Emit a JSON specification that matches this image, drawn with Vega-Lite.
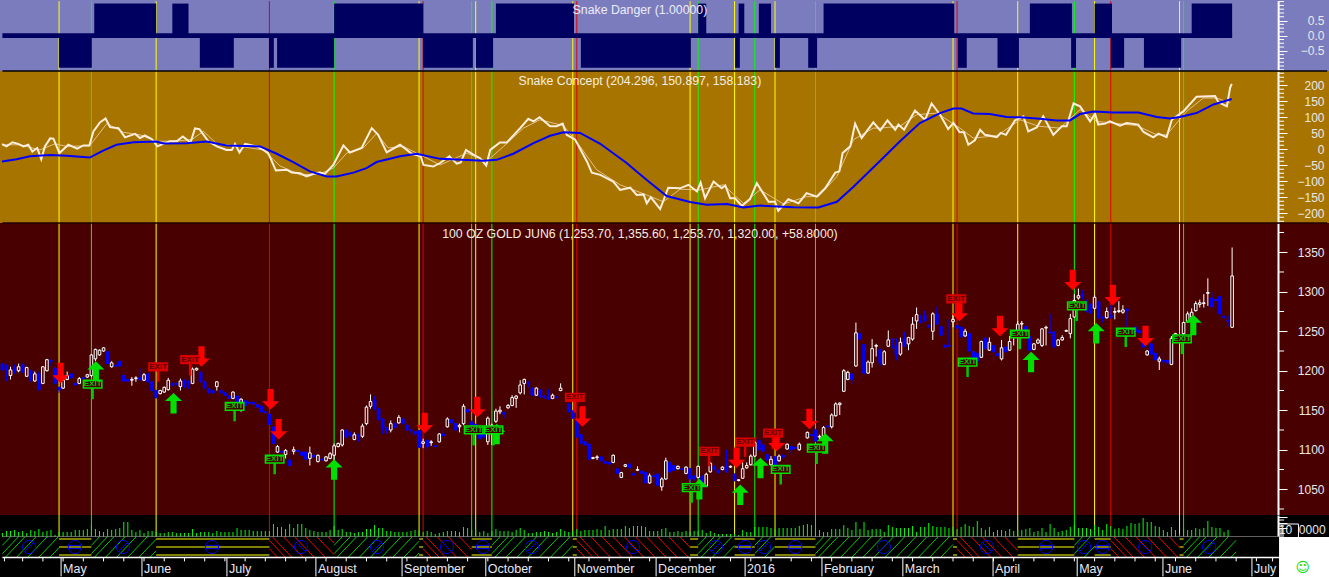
{"$schema":"https://vega.github.io/schema/vega-lite/v6.json","padding":{"left":-2,"top":0,"right":0,"bottom":0},"spacing":0,"bounds":"flush","background":"#000000","config":{"view":{"stroke":null},"axis":{"labelFont":"Liberation Sans","labelFontSize":12,"labelColor":"#E8E8E8","domainColor":"#FFFFFF","domainWidth":2,"tickColor":"#FFFFFF","tickSize":9,"grid":false,"title":null,"labelBound":false,"labelFlush":false},"axisY":{"orient":"right","offset":-51,"labelAlign":"right","labelPadding":37},"text":{"font":"Liberation Sans"}},
"datasets":{
"signals":[{"n":15,"k":"y"},{"n":23,"k":"g"},{"n":39,"k":"y"},{"n":67,"k":"r"},{"n":83,"k":"g"},{"n":104,"k":"y"},{"n":105,"k":"r"},{"n":117,"k":"g"},{"n":118,"k":"y"},{"n":122,"k":"g"},{"n":142,"k":"y"},{"n":143,"k":"r"},{"n":171,"k":"y"},{"n":173,"k":"g"},{"n":182,"k":"y"},{"n":187,"k":"g"},{"n":192,"k":"y"},{"n":202,"k":"g"},{"n":236,"k":"y"},{"n":237,"k":"r"},{"n":252,"k":"y"},{"n":266,"k":"g"},{"n":271,"k":"y"},{"n":275,"k":"r"},{"n":292,"k":"y"},{"n":293,"k":"g"}],
"danger":[{"n":23.7,"n2":39,"v":1.06},{"n":43,"n2":47,"v":1.06},{"n":83,"n2":105,"v":1.06},{"n":123,"n2":142.3,"v":1.06},{"n":173,"n2":175,"v":1.06},{"n":183,"n2":184.4,"v":1.06},{"n":188,"n2":191,"v":1.06},{"n":204,"n2":236.3,"v":1.06},{"n":255,"n2":265.4,"v":1.06},{"n":271,"n2":275.3,"v":1.06},{"n":295,"n2":305,"v":1.06},{"n":15,"n2":23.1,"v":-1.06},{"n":49.8,"n2":58.2,"v":-1.06},{"n":66.9,"n2":68.1,"v":-1.06},{"n":68.9,"n2":83,"v":-1.06},{"n":105,"n2":117.3,"v":-1.06},{"n":118,"n2":122.3,"v":-1.06},{"n":144,"n2":171.2,"v":-1.06},{"n":182.1,"n2":183.3,"v":-1.06},{"n":192,"n2":193.2,"v":-1.06},{"n":200.2,"n2":202.4,"v":-1.06},{"n":237.2,"n2":239.4,"v":-1.06},{"n":247,"n2":252.3,"v":-1.06},{"n":265.2,"n2":266.4,"v":-1.06},{"n":275,"n2":278.3,"v":-1.06},{"n":283.2,"n2":292.4,"v":-1.06}],
"baseline":[{"n":1,"n2":305}],
"white":[{"n":0.9,"v":16},{"n":2,"v":9},{"n":3.5,"v":22},{"n":4.9,"v":17},{"n":6.2,"v":9},{"n":7.4,"v":14},{"n":8.4,"v":-7},{"n":9.6,"v":4},{"n":10.6,"v":-31},{"n":11.5,"v":9},{"n":12.8,"v":34},{"n":13.6,"v":33},{"n":15.1,"v":-12},{"n":17.3,"v":14},{"n":19.5,"v":2},{"n":21,"v":12},{"n":22.5,"v":12},{"n":23.5,"v":56},{"n":25.1,"v":84},{"n":26.5,"v":96},{"n":27.6,"v":69},{"n":29.7,"v":66},{"n":31.3,"v":37},{"n":33.8,"v":48},{"n":35,"v":35},{"n":36.2,"v":43},{"n":37.9,"v":32},{"n":39.3,"v":9},{"n":40.8,"v":17},{"n":42.4,"v":25},{"n":44.1,"v":25},{"n":45.6,"v":40},{"n":47.5,"v":21},{"n":48.6,"v":65},{"n":49.7,"v":63},{"n":51.9,"v":25},{"n":54,"v":9},{"n":56.4,"v":-2},{"n":57.7,"v":-2},{"n":58.5,"v":17},{"n":59.6,"v":-10},{"n":61,"v":17},{"n":63.9,"v":9},{"n":65.5,"v":-2},{"n":66.7,"v":-12},{"n":68.6,"v":-66},{"n":71.3,"v":-64},{"n":72.5,"v":-73},{"n":74.6,"v":-75},{"n":76.2,"v":-85},{"n":78.3,"v":-75},{"n":79.5,"v":-73},{"n":80.7,"v":-77},{"n":82.8,"v":-49},{"n":85.3,"v":12},{"n":86.9,"v":-10},{"n":89.8,"v":4},{"n":92.3,"v":66},{"n":93.9,"v":45},{"n":96,"v":-10},{"n":99.3,"v":14},{"n":102.2,"v":-14},{"n":104.4,"v":-22},{"n":105.1,"v":-49},{"n":107.5,"v":-54},{"n":109.2,"v":-43},{"n":111.5,"v":-22},{"n":113.3,"v":-45},{"n":114.3,"v":-41},{"n":115.6,"v":-2},{"n":117.4,"v":-17},{"n":119.1,"v":-28},{"n":120.6,"v":-51},{"n":121.6,"v":-2},{"n":124,"v":21},{"n":125.7,"v":21},{"n":129,"v":66},{"n":131,"v":95},{"n":132.3,"v":87},{"n":133.8,"v":100},{"n":136.4,"v":72},{"n":138,"v":72},{"n":139.5,"v":80},{"n":140.5,"v":45},{"n":142.6,"v":30},{"n":145.5,"v":-38},{"n":146.7,"v":-73},{"n":148.8,"v":-80},{"n":152,"v":-101},{"n":153.7,"v":-127},{"n":156.2,"v":-120},{"n":157.8,"v":-143},{"n":159.5,"v":-141},{"n":160.3,"v":-169},{"n":161.3,"v":-150},{"n":163.6,"v":-187},{"n":165.6,"v":-120},{"n":168.5,"v":-122},{"n":170.6,"v":-111},{"n":172.7,"v":-132},{"n":173.6,"v":-104},{"n":174.7,"v":-153},{"n":176.8,"v":-101},{"n":178.8,"v":-122},{"n":179.7,"v":-113},{"n":180.9,"v":-153},{"n":182.1,"v":-153},{"n":183.8,"v":-177},{"n":185.8,"v":-156},{"n":187.5,"v":-106},{"n":190.4,"v":-164},{"n":192,"v":-164},{"n":192.8,"v":-192},{"n":195.3,"v":-156},{"n":197.8,"v":-169},{"n":199.8,"v":-137},{"n":202.3,"v":-148},{"n":204.4,"v":-122},{"n":206.9,"v":-73},{"n":207.9,"v":-69},{"n":208.7,"v":-12},{"n":210.6,"v":9},{"n":211.8,"v":80},{"n":213.4,"v":35},{"n":216.3,"v":84},{"n":218,"v":59},{"n":219.8,"v":90},{"n":221.7,"v":61},{"n":222.5,"v":77},{"n":223.9,"v":61},{"n":226.6,"v":121},{"n":229.1,"v":92},{"n":230.7,"v":143},{"n":232.8,"v":108},{"n":234.8,"v":63},{"n":236.1,"v":82},{"n":237.6,"v":54},{"n":238.7,"v":53},{"n":239.8,"v":14},{"n":241.4,"v":28},{"n":242.7,"v":61},{"n":243.9,"v":45},{"n":246.8,"v":38},{"n":247.8,"v":51},{"n":249.1,"v":45},{"n":251.3,"v":90},{"n":253.4,"v":103},{"n":254.6,"v":56},{"n":256.7,"v":68},{"n":258.3,"v":103},{"n":260.8,"v":45},{"n":262.9,"v":72},{"n":264.1,"v":72},{"n":265.8,"v":143},{"n":267.4,"v":134},{"n":269.9,"v":87},{"n":271.1,"v":111},{"n":271.9,"v":77},{"n":273.6,"v":80},{"n":274.8,"v":87},{"n":277.3,"v":74},{"n":278.9,"v":82},{"n":281.8,"v":77},{"n":283.1,"v":54},{"n":285.5,"v":37},{"n":286.8,"v":49},{"n":288.8,"v":38},{"n":290.1,"v":92},{"n":293,"v":119},{"n":296.2,"v":164},{"n":300.8,"v":166},{"n":301.6,"v":147},{"n":303.7,"v":134},{"n":304.5,"v":192},{"n":304.9,"v":204}],
"thin":[{"n":0.9,"v":14},{"n":5.3,"v":14},{"n":10.3,"v":-2},{"n":14,"v":17},{"n":16.9,"v":9},{"n":22.6,"v":11},{"n":26.8,"v":80},{"n":30.9,"v":53},{"n":35,"v":45},{"n":39.1,"v":25},{"n":43.3,"v":25},{"n":47.8,"v":30},{"n":50.7,"v":56},{"n":54,"v":17},{"n":59.7,"v":9},{"n":65.5,"v":-2},{"n":69.6,"v":-52},{"n":74.6,"v":-80},{"n":79.5,"v":-77},{"n":82.8,"v":-59},{"n":86.1,"v":-12},{"n":90.2,"v":4},{"n":93.5,"v":49},{"n":96.4,"v":4},{"n":100.1,"v":9},{"n":104.2,"v":-17},{"n":109.2,"v":-49},{"n":115.8,"v":-12},{"n":120.7,"v":-38},{"n":124.9,"v":9},{"n":129.8,"v":66},{"n":133.9,"v":92},{"n":139.7,"v":74},{"n":143.8,"v":9},{"n":147.9,"v":-64},{"n":153.7,"v":-111},{"n":160.3,"v":-143},{"n":164.4,"v":-164},{"n":168.5,"v":-125},{"n":173.5,"v":-127},{"n":179.2,"v":-111},{"n":184.2,"v":-169},{"n":188.3,"v":-127},{"n":194.1,"v":-171},{"n":199.8,"v":-148},{"n":202.7,"v":-148},{"n":207.3,"v":-85},{"n":211.4,"v":30},{"n":216.3,"v":66},{"n":218,"v":66},{"n":222.9,"v":72},{"n":227,"v":108},{"n":232,"v":113},{"n":237.7,"v":66},{"n":241,"v":35},{"n":246.8,"v":42},{"n":252.6,"v":92},{"n":257.1,"v":72},{"n":262.4,"v":66},{"n":267.4,"v":124},{"n":271.5,"v":87},{"n":281.4,"v":74},{"n":286.4,"v":45},{"n":288.8,"v":45},{"n":293.8,"v":119},{"n":297.9,"v":160},{"n":301.2,"v":160},{"n":304.5,"v":145}],
"blue":[{"n":0.9,"v":-38},{"n":4.5,"v":-31},{"n":7.8,"v":-22},{"n":12.8,"v":-18},{"n":16.9,"v":-20},{"n":22.6,"v":-26},{"n":25.9,"v":-4},{"n":29.2,"v":14},{"n":33.4,"v":22},{"n":39.1,"v":24},{"n":40.8,"v":18},{"n":46.5,"v":19},{"n":51.5,"v":24},{"n":56.4,"v":12},{"n":64.7,"v":9},{"n":68.8,"v":-14},{"n":72.9,"v":-40},{"n":77,"v":-69},{"n":81.2,"v":-85},{"n":83.6,"v":-85},{"n":87.8,"v":-73},{"n":91,"v":-59},{"n":93.5,"v":-40},{"n":99.3,"v":-22},{"n":103.4,"v":-14},{"n":109.2,"v":-30},{"n":119.9,"v":-36},{"n":123.2,"v":-33},{"n":127.3,"v":-14},{"n":132.3,"v":19},{"n":136.4,"v":42},{"n":139.7,"v":53},{"n":143.8,"v":51},{"n":148.8,"v":17},{"n":155.3,"v":-43},{"n":160.3,"v":-96},{"n":165.2,"v":-146},{"n":171,"v":-165},{"n":175.1,"v":-173},{"n":180.1,"v":-171},{"n":184.2,"v":-182},{"n":188.3,"v":-176},{"n":196.6,"v":-181},{"n":202.7,"v":-182},{"n":207.3,"v":-164},{"n":211.4,"v":-117},{"n":218,"v":-36},{"n":222.9,"v":25},{"n":227.8,"v":82},{"n":232.8,"v":113},{"n":236.1,"v":127},{"n":238.1,"v":127},{"n":241,"v":112},{"n":245.1,"v":110},{"n":249.3,"v":101},{"n":252.6,"v":100},{"n":257.5,"v":95},{"n":261.6,"v":90},{"n":264.9,"v":90},{"n":267.4,"v":110},{"n":270.7,"v":118},{"n":275.6,"v":115},{"n":281.8,"v":115},{"n":286.4,"v":101},{"n":289.6,"v":96},{"n":292.1,"v":101},{"n":296.2,"v":113},{"n":300.4,"v":140},{"n":304.9,"v":157}],
"candles":[{"n":1,"o":1209,"h":1209,"l":1200,"c":1201},{"n":2,"o":1207,"h":1208,"l":1187,"c":1201},{"n":3,"o":1194,"h":1205,"l":1189,"c":1201},{"n":4,"o":1204,"h":1208,"l":1196,"c":1200},{"n":5,"o":1200,"h":1209,"l":1198,"c":1205},{"n":6,"o":1208,"h":1209,"l":1197,"c":1198},{"n":7,"o":1193,"h":1205,"l":1192,"c":1204},{"n":8,"o":1200,"h":1201,"l":1186,"c":1188},{"n":9,"o":1187,"h":1199,"l":1186,"c":1196},{"n":10,"o":1196,"h":1199,"l":1175,"c":1176},{"n":11,"o":1184,"h":1206,"l":1183,"c":1205},{"n":12,"o":1200,"h":1215,"l":1199,"c":1214},{"n":13,"o":1213,"h":1215,"l":1206,"c":1212},{"n":14,"o":1203,"h":1205,"l":1183,"c":1184},{"n":15,"o":1179,"h":1180,"l":1172,"c":1176},{"n":16,"o":1178,"h":1190,"l":1177,"c":1188},{"n":17,"o":1189,"h":1199,"l":1188,"c":1194},{"n":18,"o":1196,"h":1197,"l":1190,"c":1191},{"n":19,"o":1184,"h":1185,"l":1181,"c":1182},{"n":20,"o":1184,"h":1192,"l":1183,"c":1190},{"n":21,"o":1191,"h":1192,"l":1189,"c":1190},{"n":22,"o":1192,"h":1196,"l":1191,"c":1195},{"n":23,"o":1194,"h":1221,"l":1192,"c":1220},{"n":24,"o":1215,"h":1228,"l":1212,"c":1227},{"n":25,"o":1220,"h":1227,"l":1219,"c":1226},{"n":26,"o":1225,"h":1230,"l":1224,"c":1229},{"n":27,"o":1224,"h":1225,"l":1208,"c":1209},{"n":28,"o":1205,"h":1212,"l":1204,"c":1210},{"n":29,"o":1207,"h":1208,"l":1205,"c":1206},{"n":30,"o":1212,"h":1213,"l":1205,"c":1206},{"n":31,"o":1194,"h":1195,"l":1186,"c":1187},{"n":32,"o":1189,"h":1190,"l":1186,"c":1187},{"n":33,"o":1188,"h":1192,"l":1181,"c":1189},{"n":34,"o":1190,"h":1193,"l":1186,"c":1191},{"n":35,"o":1191,"h":1203,"l":1187,"c":1189},{"n":36,"o":1188,"h":1197,"l":1187,"c":1195},{"n":37,"o":1196,"h":1197,"l":1185,"c":1186},{"n":38,"o":1186,"h":1187,"l":1174,"c":1175},{"n":39,"o":1175,"h":1176,"l":1165,"c":1166},{"n":40,"o":1171,"h":1176,"l":1170,"c":1175},{"n":41,"o":1173,"h":1180,"l":1172,"c":1179},{"n":42,"o":1176,"h":1191,"l":1175,"c":1188},{"n":43,"o":1184,"h":1185,"l":1180,"c":1182},{"n":44,"o":1184,"h":1185,"l":1181,"c":1183},{"n":45,"o":1180,"h":1190,"l":1175,"c":1187},{"n":46,"o":1188,"h":1189,"l":1178,"c":1180},{"n":47,"o":1186,"h":1188,"l":1177,"c":1184},{"n":48,"o":1184,"h":1204,"l":1183,"c":1202},{"n":49,"o":1201,"h":1204,"l":1200,"c":1203},{"n":50,"o":1198,"h":1199,"l":1185,"c":1186},{"n":51,"o":1186,"h":1187,"l":1177,"c":1178},{"n":52,"o":1177,"h":1178,"l":1171,"c":1172},{"n":53,"o":1175,"h":1176,"l":1171,"c":1172},{"n":54,"o":1180,"h":1187,"l":1175,"c":1186},{"n":55,"o":1175,"h":1176,"l":1171,"c":1172},{"n":56,"o":1172,"h":1173,"l":1168,"c":1169},{"n":57,"o":1168,"h":1169,"l":1164,"c":1165},{"n":58,"o":1165,"h":1174,"l":1164,"c":1173},{"n":59,"o":1168,"h":1169,"l":1159,"c":1160},{"n":60,"o":1154,"h":1165,"l":1148,"c":1164},{"n":61,"o":1162,"h":1163,"l":1155,"c":1156},{"n":62,"o":1160,"h":1161,"l":1158,"c":1159},{"n":63,"o":1160,"h":1161,"l":1157,"c":1158},{"n":64,"o":1157,"h":1158,"l":1153,"c":1154},{"n":65,"o":1155,"h":1156,"l":1147,"c":1148},{"n":66,"o":1148,"h":1149,"l":1146,"c":1147},{"n":67,"o":1145,"h":1146,"l":1131,"c":1132},{"n":68,"o":1129,"h":1130,"l":1107,"c":1108},{"n":69,"o":1097,"h":1106,"l":1096,"c":1104},{"n":70,"o":1098,"h":1099,"l":1096,"c":1097},{"n":71,"o":1094,"h":1101,"l":1089,"c":1099},{"n":72,"o":1087,"h":1099,"l":1079,"c":1080},{"n":73,"o":1098,"h":1104,"l":1094,"c":1100},{"n":74,"o":1099,"h":1100,"l":1097,"c":1098},{"n":75,"o":1097,"h":1098,"l":1092,"c":1093},{"n":76,"o":1097,"h":1098,"l":1087,"c":1088},{"n":77,"o":1089,"h":1104,"l":1080,"c":1096},{"n":78,"o":1093,"h":1094,"l":1090,"c":1091},{"n":79,"o":1085,"h":1094,"l":1084,"c":1093},{"n":80,"o":1088,"h":1089,"l":1086,"c":1087},{"n":81,"o":1086,"h":1092,"l":1085,"c":1091},{"n":82,"o":1089,"h":1097,"l":1088,"c":1095},{"n":83,"o":1093,"h":1108,"l":1085,"c":1105},{"n":84,"o":1104,"h":1109,"l":1103,"c":1108},{"n":85,"o":1106,"h":1126,"l":1104,"c":1125},{"n":86,"o":1125,"h":1126,"l":1115,"c":1116},{"n":87,"o":1122,"h":1123,"l":1116,"c":1118},{"n":88,"o":1113,"h":1122,"l":1112,"c":1119},{"n":89,"o":1119,"h":1120,"l":1110,"c":1118},{"n":90,"o":1117,"h":1133,"l":1115,"c":1130},{"n":91,"o":1133,"h":1156,"l":1131,"c":1154},{"n":92,"o":1155,"h":1170,"l":1152,"c":1161},{"n":93,"o":1163,"h":1168,"l":1150,"c":1152},{"n":94,"o":1152,"h":1153,"l":1137,"c":1138},{"n":95,"o":1139,"h":1140,"l":1120,"c":1127},{"n":96,"o":1128,"h":1129,"l":1120,"c":1124},{"n":97,"o":1125,"h":1137,"l":1122,"c":1133},{"n":98,"o":1133,"h":1134,"l":1127,"c":1128},{"n":99,"o":1134,"h":1144,"l":1133,"c":1141},{"n":100,"o":1139,"h":1140,"l":1132,"c":1133},{"n":101,"o":1131,"h":1132,"l":1124,"c":1125},{"n":102,"o":1125,"h":1126,"l":1120,"c":1124},{"n":103,"o":1123,"h":1124,"l":1118,"c":1120},{"n":104,"o":1124,"h":1125,"l":1102,"c":1103},{"n":105,"o":1108,"h":1114,"l":1102,"c":1110},{"n":106,"o":1112,"h":1113,"l":1100,"c":1104},{"n":107,"o":1109,"h":1112,"l":1105,"c":1110},{"n":108,"o":1105,"h":1106,"l":1104,"c":1104},{"n":109,"o":1110,"h":1121,"l":1109,"c":1120},{"n":110,"o":1120,"h":1129,"l":1117,"c":1118},{"n":111,"o":1129,"h":1141,"l":1128,"c":1139},{"n":112,"o":1138,"h":1139,"l":1133,"c":1134},{"n":113,"o":1133,"h":1134,"l":1124,"c":1125},{"n":114,"o":1129,"h":1133,"l":1122,"c":1131},{"n":115,"o":1133,"h":1158,"l":1131,"c":1155},{"n":116,"o":1151,"h":1152,"l":1147,"c":1148},{"n":117,"o":1135,"h":1137,"l":1128,"c":1132},{"n":118,"o":1132,"h":1133,"l":1120,"c":1125},{"n":119,"o":1127,"h":1128,"l":1113,"c":1114},{"n":120,"o":1120,"h":1121,"l":1115,"c":1116},{"n":121,"o":1110,"h":1142,"l":1106,"c":1140},{"n":122,"o":1120,"h":1133,"l":1106,"c":1131},{"n":123,"o":1136,"h":1152,"l":1134,"c":1149},{"n":124,"o":1148,"h":1155,"l":1145,"c":1150},{"n":125,"o":1147,"h":1148,"l":1140,"c":1145},{"n":126,"o":1153,"h":1158,"l":1152,"c":1156},{"n":127,"o":1156,"h":1169,"l":1155,"c":1166},{"n":128,"o":1165,"h":1169,"l":1153,"c":1168},{"n":129,"o":1172,"h":1188,"l":1170,"c":1182},{"n":130,"o":1184,"h":1190,"l":1170,"c":1189},{"n":131,"o":1185,"h":1187,"l":1179,"c":1184},{"n":132,"o":1178,"h":1179,"l":1168,"c":1169},{"n":133,"o":1169,"h":1179,"l":1168,"c":1178},{"n":134,"o":1176,"h":1177,"l":1166,"c":1167},{"n":135,"o":1168,"h":1169,"l":1165,"c":1166},{"n":136,"o":1166,"h":1177,"l":1163,"c":1164},{"n":137,"o":1165,"h":1171,"l":1164,"c":1169},{"n":138,"o":1167,"h":1168,"l":1165,"c":1166},{"n":139,"o":1175,"h":1184,"l":1174,"c":1178},{"n":141,"o":1158,"h":1159,"l":1147,"c":1148},{"n":142,"o":1149,"h":1150,"l":1139,"c":1140},{"n":143,"o":1137,"h":1138,"l":1115,"c":1116},{"n":144,"o":1119,"h":1120,"l":1107,"c":1108},{"n":145,"o":1110,"h":1111,"l":1105,"c":1106},{"n":146,"o":1107,"h":1108,"l":1087,"c":1088},{"n":147,"o":1089,"h":1091,"l":1088,"c":1090},{"n":148,"o":1090,"h":1093,"l":1087,"c":1091},{"n":149,"o":1091,"h":1092,"l":1085,"c":1086},{"n":150,"o":1085,"h":1086,"l":1082,"c":1083},{"n":151,"o":1084,"h":1085,"l":1081,"c":1082},{"n":152,"o":1084,"h":1094,"l":1083,"c":1093},{"n":153,"o":1076,"h":1077,"l":1069,"c":1070},{"n":154,"o":1065,"h":1072,"l":1064,"c":1071},{"n":155,"o":1079,"h":1082,"l":1078,"c":1081},{"n":156,"o":1082,"h":1083,"l":1076,"c":1077},{"n":157,"o":1070,"h":1072,"l":1067,"c":1068},{"n":158,"o":1074,"h":1079,"l":1073,"c":1075},{"n":159,"o":1073,"h":1074,"l":1069,"c":1070},{"n":160,"o":1071,"h":1072,"l":1057,"c":1058},{"n":161,"o":1058,"h":1070,"l":1057,"c":1067},{"n":162,"o":1067,"h":1074,"l":1056,"c":1066},{"n":163,"o":1069,"h":1070,"l":1054,"c":1055},{"n":164,"o":1053,"h":1065,"l":1048,"c":1063},{"n":165,"o":1063,"h":1090,"l":1062,"c":1086},{"n":166,"o":1084,"h":1085,"l":1071,"c":1072},{"n":167,"o":1080,"h":1081,"l":1073,"c":1074},{"n":168,"o":1076,"h":1080,"l":1075,"c":1079},{"n":169,"o":1076,"h":1077,"l":1074,"c":1075},{"n":170,"o":1070,"h":1079,"l":1069,"c":1078},{"n":171,"o":1076,"h":1077,"l":1058,"c":1063},{"n":172,"o":1067,"h":1068,"l":1061,"c":1063},{"n":173,"o":1065,"h":1080,"l":1064,"c":1079},{"n":174,"o":1066,"h":1068,"l":1055,"c":1058},{"n":175,"o":1054,"h":1071,"l":1053,"c":1069},{"n":176,"o":1072,"h":1084,"l":1071,"c":1083},{"n":177,"o":1079,"h":1080,"l":1074,"c":1075},{"n":178,"o":1074,"h":1075,"l":1070,"c":1071},{"n":179,"o":1075,"h":1079,"l":1074,"c":1078},{"n":180,"o":1079,"h":1100,"l":1071,"c":1072},{"n":181,"o":1078,"h":1080,"l":1077,"c":1079},{"n":182,"o":1069,"h":1070,"l":1060,"c":1061},{"n":183,"o":1061,"h":1063,"l":1060,"c":1062},{"n":184,"o":1064,"h":1084,"l":1063,"c":1076},{"n":185,"o":1077,"h":1084,"l":1076,"c":1080},{"n":186,"o":1081,"h":1094,"l":1080,"c":1092},{"n":187,"o":1092,"h":1111,"l":1091,"c":1109},{"n":188,"o":1112,"h":1113,"l":1099,"c":1100},{"n":189,"o":1106,"h":1107,"l":1097,"c":1098},{"n":190,"o":1094,"h":1095,"l":1086,"c":1087},{"n":191,"o":1081,"h":1092,"l":1080,"c":1088},{"n":192,"o":1091,"h":1092,"l":1073,"c":1076},{"n":193,"o":1086,"h":1094,"l":1085,"c":1092},{"n":194,"o":1093,"h":1094,"l":1088,"c":1091},{"n":195,"o":1101,"h":1108,"l":1100,"c":1107},{"n":196,"o":1104,"h":1105,"l":1094,"c":1100},{"n":197,"o":1103,"h":1104,"l":1101,"c":1102},{"n":198,"o":1100,"h":1109,"l":1099,"c":1107},{"n":200,"o":1115,"h":1123,"l":1114,"c":1122},{"n":201,"o":1119,"h":1120,"l":1117,"c":1118},{"n":202,"o":1125,"h":1126,"l":1110,"c":1111},{"n":203,"o":1116,"h":1119,"l":1112,"c":1117},{"n":204,"o":1117,"h":1130,"l":1116,"c":1128},{"n":205,"o":1130,"h":1132,"l":1127,"c":1129},{"n":206,"o":1129,"h":1146,"l":1127,"c":1144},{"n":207,"o":1143,"h":1160,"l":1142,"c":1158},{"n":208,"o":1157,"h":1160,"l":1144,"c":1159},{"n":209,"o":1174,"h":1202,"l":1173,"c":1200},{"n":210,"o":1189,"h":1200,"l":1188,"c":1198},{"n":211,"o":1196,"h":1197,"l":1183,"c":1189},{"n":212,"o":1206,"h":1261,"l":1205,"c":1248},{"n":213,"o":1247,"h":1248,"l":1239,"c":1240},{"n":214,"o":1233,"h":1234,"l":1195,"c":1197},{"n":215,"o":1197,"h":1213,"l":1196,"c":1211},{"n":216,"o":1210,"h":1240,"l":1204,"c":1228},{"n":217,"o":1231,"h":1234,"l":1218,"c":1232},{"n":218,"o":1227,"h":1228,"l":1206,"c":1210},{"n":219,"o":1208,"h":1226,"l":1207,"c":1224},{"n":220,"o":1231,"h":1251,"l":1230,"c":1239},{"n":221,"o":1240,"h":1241,"l":1228,"c":1239},{"n":222,"o":1232,"h":1241,"l":1213,"c":1220},{"n":223,"o":1221,"h":1242,"l":1219,"c":1236},{"n":224,"o":1241,"h":1249,"l":1230,"c":1231},{"n":225,"o":1234,"h":1243,"l":1226,"c":1242},{"n":226,"o":1240,"h":1268,"l":1238,"c":1259},{"n":227,"o":1263,"h":1280,"l":1253,"c":1271},{"n":228,"o":1263,"h":1271,"l":1260,"c":1261},{"n":229,"o":1270,"h":1276,"l":1262,"c":1263},{"n":230,"o":1257,"h":1259,"l":1254,"c":1256},{"n":231,"o":1250,"h":1274,"l":1239,"c":1272},{"n":232,"o":1272,"h":1281,"l":1258,"c":1259},{"n":233,"o":1256,"h":1257,"l":1244,"c":1245},{"n":234,"o":1232,"h":1234,"l":1229,"c":1230},{"n":235,"o":1232,"h":1265,"l":1230,"c":1231},{"n":236,"o":1262,"h":1272,"l":1255,"c":1265},{"n":237,"o":1257,"h":1258,"l":1253,"c":1254},{"n":238,"o":1255,"h":1256,"l":1242,"c":1243},{"n":239,"o":1244,"h":1253,"l":1243,"c":1250},{"n":240,"o":1247,"h":1248,"l":1224,"c":1225},{"n":241,"o":1224,"h":1225,"l":1214,"c":1215},{"n":242,"o":1222,"h":1223,"l":1210,"c":1212},{"n":243,"o":1217,"h":1238,"l":1216,"c":1237},{"n":244,"o":1241,"h":1245,"l":1227,"c":1228},{"n":245,"o":1226,"h":1242,"l":1225,"c":1236},{"n":246,"o":1232,"h":1233,"l":1210,"c":1224},{"n":247,"o":1222,"h":1223,"l":1218,"c":1219},{"n":248,"o":1215,"h":1239,"l":1213,"c":1229},{"n":249,"o":1230,"h":1231,"l":1223,"c":1224},{"n":250,"o":1226,"h":1244,"l":1225,"c":1237},{"n":251,"o":1243,"h":1246,"l":1232,"c":1244},{"n":252,"o":1243,"h":1263,"l":1242,"c":1259},{"n":253,"o":1259,"h":1263,"l":1250,"c":1260},{"n":254,"o":1256,"h":1257,"l":1250,"c":1251},{"n":255,"o":1243,"h":1244,"l":1225,"c":1226},{"n":256,"o":1227,"h":1235,"l":1226,"c":1234},{"n":257,"o":1235,"h":1241,"l":1234,"c":1239},{"n":258,"o":1232,"h":1254,"l":1230,"c":1253},{"n":259,"o":1254,"h":1257,"l":1232,"c":1255},{"n":260,"o":1249,"h":1272,"l":1247,"c":1248},{"n":261,"o":1249,"h":1250,"l":1229,"c":1230},{"n":262,"o":1232,"h":1240,"l":1231,"c":1239},{"n":263,"o":1239,"h":1245,"l":1238,"c":1242},{"n":264,"o":1250,"h":1252,"l":1249,"c":1251},{"n":265,"o":1247,"h":1272,"l":1241,"c":1266},{"n":266,"o":1268,"h":1297,"l":1267,"c":1289},{"n":267,"o":1292,"h":1304,"l":1290,"c":1295},{"n":268,"o":1296,"h":1302,"l":1290,"c":1294},{"n":269,"o":1287,"h":1290,"l":1274,"c":1275},{"n":270,"o":1284,"h":1285,"l":1272,"c":1273},{"n":271,"o":1279,"h":1296,"l":1278,"c":1293},{"n":272,"o":1287,"h":1288,"l":1266,"c":1267},{"n":273,"o":1268,"h":1269,"l":1261,"c":1266},{"n":274,"o":1267,"h":1280,"l":1266,"c":1275},{"n":275,"o":1270,"h":1283,"l":1266,"c":1267},{"n":276,"o":1274,"h":1280,"l":1265,"c":1275},{"n":277,"o":1275,"h":1288,"l":1273,"c":1276},{"n":278,"o":1274,"h":1283,"l":1272,"c":1277},{"n":279,"o":1278,"h":1279,"l":1255,"c":1276},{"n":280,"o":1252,"h":1253,"l":1250,"c":1251},{"n":281,"o":1255,"h":1256,"l":1248,"c":1249},{"n":282,"o":1251,"h":1252,"l":1247,"c":1248},{"n":283,"o":1236,"h":1237,"l":1229,"c":1230},{"n":284,"o":1220,"h":1226,"l":1219,"c":1225},{"n":285,"o":1234,"h":1235,"l":1220,"c":1221},{"n":286,"o":1222,"h":1223,"l":1213,"c":1214},{"n":287,"o":1212,"h":1218,"l":1201,"c":1215},{"n":288,"o":1213,"h":1222,"l":1206,"c":1212},{"n":289,"o":1213,"h":1214,"l":1209,"c":1210},{"n":290,"o":1208,"h":1244,"l":1207,"c":1241},{"n":291,"o":1245,"h":1248,"l":1244,"c":1247},{"n":292,"o":1245,"h":1246,"l":1238,"c":1240},{"n":293,"o":1247,"h":1262,"l":1246,"c":1261},{"n":294,"o":1262,"h":1275,"l":1261,"c":1272},{"n":295,"o":1268,"h":1279,"l":1267,"c":1274},{"n":296,"o":1276,"h":1288,"l":1275,"c":1285},{"n":297,"o":1284,"h":1290,"l":1280,"c":1286},{"n":298,"o":1285,"h":1297,"l":1280,"c":1286},{"n":299,"o":1298,"h":1317,"l":1282,"c":1299},{"n":300,"o":1292,"h":1300,"l":1280,"c":1281},{"n":301,"o":1290,"h":1291,"l":1288,"c":1289},{"n":302,"o":1294,"h":1295,"l":1271,"c":1272},{"n":303,"o":1269,"h":1270,"l":1266,"c":1267},{"n":304,"o":1264,"h":1270,"l":1256,"c":1263},{"n":305,"o":1255,"h":1356,"l":1254,"c":1320}],
"down":[{"n":15.4,"p":1197},{"n":50.2,"p":1218},{"n":67.3,"p":1164},{"n":69.3,"p":1126},{"n":105.4,"p":1134},{"n":118.4,"p":1154},{"n":144.4,"p":1142},{"n":182.5,"p":1090},{"n":192.4,"p":1111},{"n":200.5,"p":1139},{"n":237.6,"p":1275.5},{"n":247.6,"p":1256.5},{"n":265.6,"p":1315},{"n":275.5,"p":1296},{"n":283.6,"p":1244}],
"up":[{"n":24.1,"p":1199},{"n":43.3,"p":1159},{"n":83,"p":1075},{"n":123.2,"p":1120},{"n":173.3,"p":1050},{"n":183.4,"p":1043},{"n":188.4,"p":1077},{"n":204.4,"p":1108},{"n":255.3,"p":1211},{"n":271.4,"p":1247.4},{"n":295.4,"p":1258}],
"exits":[{"n":23.3,"p":1183,"e":1164,"k":"g","t":"EXIT"},{"n":58.4,"p":1155,"e":1136,"k":"g","t":"EXIT"},{"n":68.3,"p":1088,"e":1069,"k":"g","t":"EXIT"},{"n":117.5,"p":1125,"e":1105.5,"k":"g","t":"EXIT"},{"n":122.4,"p":1125,"e":1105.5,"k":"g","t":"EXIT"},{"n":171.4,"p":1052,"e":1033,"k":"g","t":"EXIT"},{"n":193.4,"p":1075,"e":1056,"k":"g","t":"EXIT"},{"n":202.3,"p":1102,"e":1082,"k":"g","t":"EXIT"},{"n":239.6,"p":1211,"e":1192,"k":"g","t":"EXIT"},{"n":252.5,"p":1246.5,"e":1227.3,"k":"g","t":"EXIT"},{"n":266.6,"p":1282,"e":1263,"k":"g","t":"EXIT"},{"n":278.7,"p":1249,"e":1230,"k":"g","t":"EXIT"},{"n":292.6,"p":1240.4,"e":1221,"k":"g","t":"EXIT"},{"n":39.5,"p":1205,"e":1186,"k":"r","t":"EXIT"},{"n":47.4,"p":1214,"e":1194,"k":"r","t":"EXIT"},{"n":142.5,"p":1166.4,"e":1147,"k":"r","t":"EXIT"},{"n":175.7,"p":1098,"e":1079,"k":"r","t":"EXIT"},{"n":184.6,"p":1109.5,"e":1091,"k":"r","t":"EXIT"},{"n":191.5,"p":1121,"e":1101,"k":"r","t":"EXIT"},{"n":236.8,"p":1291,"e":1272,"k":"r","t":"EXIT"}],
"vol":[{"n":1,"v":4},{"n":2,"v":6},{"n":3,"v":6},{"n":4,"v":7},{"n":5,"v":5},{"n":6,"v":6},{"n":7,"v":4},{"n":8,"v":7},{"n":9,"v":6},{"n":10,"v":8},{"n":11,"v":5},{"n":12,"v":6},{"n":13,"v":7},{"n":14,"v":2},{"n":15,"v":5},{"n":16,"v":5},{"n":17,"v":5},{"n":18,"v":5},{"n":19,"v":7},{"n":20,"v":7},{"n":21,"v":7},{"n":22,"v":8},{"n":23,"v":12},{"n":24,"v":8},{"n":25,"v":6},{"n":26,"v":5},{"n":27,"v":8},{"n":28,"v":7},{"n":29,"v":8},{"n":30,"v":9},{"n":31,"v":15},{"n":32,"v":15},{"n":33,"v":7},{"n":34,"v":5},{"n":35,"v":7},{"n":36,"v":4},{"n":37,"v":6},{"n":38,"v":6},{"n":39,"v":5},{"n":40,"v":4},{"n":41,"v":4},{"n":42,"v":5},{"n":43,"v":5},{"n":44,"v":4},{"n":45,"v":4},{"n":46,"v":4},{"n":47,"v":4},{"n":48,"v":8},{"n":49,"v":4},{"n":50,"v":5},{"n":51,"v":5},{"n":52,"v":5},{"n":53,"v":4},{"n":54,"v":6},{"n":55,"v":5},{"n":56,"v":5},{"n":57,"v":5},{"n":58,"v":5},{"n":59,"v":9},{"n":60,"v":7},{"n":61,"v":7},{"n":62,"v":7},{"n":63,"v":6},{"n":64,"v":6},{"n":65,"v":6},{"n":66,"v":6},{"n":67,"v":6},{"n":68,"v":13},{"n":69,"v":10},{"n":70,"v":10},{"n":71,"v":8},{"n":72,"v":13},{"n":73,"v":9},{"n":74,"v":13},{"n":75,"v":13},{"n":76,"v":9},{"n":77,"v":7},{"n":78,"v":6},{"n":79,"v":5},{"n":80,"v":5},{"n":81,"v":5},{"n":82,"v":7},{"n":83,"v":11},{"n":84,"v":7},{"n":85,"v":8},{"n":86,"v":5},{"n":87,"v":5},{"n":88,"v":4},{"n":89,"v":5},{"n":90,"v":5},{"n":91,"v":8},{"n":92,"v":8},{"n":93,"v":12},{"n":94,"v":9},{"n":95,"v":9},{"n":96,"v":6},{"n":97,"v":6},{"n":98,"v":5},{"n":99,"v":5},{"n":100,"v":5},{"n":101,"v":5},{"n":102,"v":6},{"n":103,"v":7},{"n":104,"v":7},{"n":105,"v":5},{"n":106,"v":6},{"n":107,"v":5},{"n":108,"v":3},{"n":109,"v":4},{"n":110,"v":5},{"n":111,"v":6},{"n":112,"v":6},{"n":113,"v":6},{"n":114,"v":5},{"n":115,"v":10},{"n":116,"v":9},{"n":117,"v":7},{"n":118,"v":8},{"n":119,"v":5},{"n":120,"v":6},{"n":121,"v":4},{"n":122,"v":6},{"n":123,"v":8},{"n":124,"v":6},{"n":125,"v":6},{"n":126,"v":6},{"n":127,"v":5},{"n":128,"v":7},{"n":129,"v":9},{"n":130,"v":7},{"n":131,"v":4},{"n":132,"v":4},{"n":133,"v":5},{"n":134,"v":5},{"n":135,"v":6},{"n":136,"v":5},{"n":137,"v":4},{"n":138,"v":5},{"n":139,"v":8},{"n":140,"v":6},{"n":141,"v":5},{"n":142,"v":6},{"n":143,"v":8},{"n":144,"v":6},{"n":145,"v":7},{"n":146,"v":7},{"n":147,"v":7},{"n":148,"v":8},{"n":149,"v":7},{"n":150,"v":11},{"n":151,"v":7},{"n":152,"v":8},{"n":153,"v":8},{"n":154,"v":8},{"n":155,"v":11},{"n":156,"v":9},{"n":157,"v":11},{"n":158,"v":11},{"n":159,"v":11},{"n":160,"v":10},{"n":161,"v":6},{"n":162,"v":6},{"n":163,"v":6},{"n":164,"v":8},{"n":165,"v":9},{"n":166,"v":5},{"n":167,"v":5},{"n":168,"v":6},{"n":169,"v":5},{"n":170,"v":6},{"n":171,"v":5},{"n":172,"v":6},{"n":173,"v":6},{"n":174,"v":7},{"n":175,"v":4},{"n":176,"v":6},{"n":177,"v":4},{"n":178,"v":3},{"n":179,"v":3},{"n":180,"v":3},{"n":181,"v":3},{"n":182,"v":3},{"n":183,"v":2},{"n":184,"v":7},{"n":185,"v":5},{"n":186,"v":5},{"n":187,"v":10},{"n":188,"v":10},{"n":189,"v":10},{"n":190,"v":10},{"n":191,"v":9},{"n":192,"v":8},{"n":193,"v":9},{"n":194,"v":9},{"n":195,"v":9},{"n":196,"v":9},{"n":197,"v":9},{"n":198,"v":11},{"n":199,"v":12},{"n":200,"v":13},{"n":201,"v":12},{"n":202,"v":9},{"n":203,"v":7},{"n":204,"v":5},{"n":205,"v":5},{"n":206,"v":8},{"n":207,"v":8},{"n":208,"v":8},{"n":209,"v":12},{"n":210,"v":9},{"n":211,"v":7},{"n":212,"v":15},{"n":213,"v":8},{"n":214,"v":15},{"n":215,"v":7},{"n":216,"v":8},{"n":217,"v":8},{"n":218,"v":8},{"n":219,"v":5},{"n":220,"v":12},{"n":221,"v":10},{"n":222,"v":9},{"n":223,"v":9},{"n":224,"v":9},{"n":225,"v":9},{"n":226,"v":11},{"n":227,"v":5},{"n":228,"v":10},{"n":229,"v":10},{"n":230,"v":14},{"n":231,"v":11},{"n":232,"v":10},{"n":233,"v":10},{"n":234,"v":10},{"n":235,"v":9},{"n":236,"v":10},{"n":237,"v":8},{"n":238,"v":10},{"n":239,"v":13},{"n":240,"v":11},{"n":241,"v":10},{"n":242,"v":16},{"n":243,"v":9},{"n":244,"v":7},{"n":245,"v":10},{"n":246,"v":5},{"n":247,"v":7},{"n":248,"v":7},{"n":249,"v":6},{"n":250,"v":8},{"n":251,"v":6},{"n":252,"v":7},{"n":253,"v":7},{"n":254,"v":8},{"n":255,"v":9},{"n":256,"v":5},{"n":257,"v":6},{"n":258,"v":9},{"n":259,"v":5},{"n":260,"v":13},{"n":261,"v":9},{"n":262,"v":5},{"n":263,"v":6},{"n":264,"v":7},{"n":265,"v":10},{"n":266,"v":12},{"n":267,"v":9},{"n":268,"v":9},{"n":269,"v":9},{"n":270,"v":8},{"n":271,"v":12},{"n":272,"v":10},{"n":273,"v":7},{"n":274,"v":13},{"n":275,"v":11},{"n":276,"v":8},{"n":277,"v":9},{"n":278,"v":8},{"n":279,"v":11},{"n":280,"v":14},{"n":281,"v":13},{"n":282,"v":14},{"n":283,"v":19},{"n":284,"v":15},{"n":285,"v":15},{"n":286,"v":11},{"n":287,"v":10},{"n":288,"v":7},{"n":289,"v":5},{"n":290,"v":10},{"n":291,"v":7},{"n":292,"v":3},{"n":293,"v":8},{"n":294,"v":7},{"n":295,"v":7},{"n":296,"v":9},{"n":297,"v":8},{"n":298,"v":9},{"n":299,"v":16},{"n":300,"v":10},{"n":301,"v":9},{"n":302,"v":9},{"n":303,"v":5},{"n":304,"v":7}],
"hatchG":[{"n":1,"n2":2.95,"a":0.585,"b":1},{"n":1,"n2":4.9,"a":0.17,"b":1},{"n":1.8,"n2":6.5,"a":0,"b":1},{"n":4.55,"n2":9.25,"a":0,"b":1},{"n":7.3,"n2":12,"a":0,"b":1},{"n":10.05,"n2":14.75,"a":0,"b":1},{"n":12.8,"n2":15,"a":0,"b":0.47},{"n":23,"n2":24.95,"a":0.585,"b":1},{"n":23,"n2":26.9,"a":0.17,"b":1},{"n":23.8,"n2":28.5,"a":0,"b":1},{"n":26.55,"n2":31.25,"a":0,"b":1},{"n":29.3,"n2":34,"a":0,"b":1},{"n":32.05,"n2":36.75,"a":0,"b":1},{"n":34.8,"n2":39,"a":0,"b":0.89},{"n":37.55,"n2":39,"a":0,"b":0.31},{"n":83,"n2":84.95,"a":0.585,"b":1},{"n":83,"n2":86.9,"a":0.17,"b":1},{"n":83.8,"n2":88.5,"a":0,"b":1},{"n":86.55,"n2":91.25,"a":0,"b":1},{"n":89.3,"n2":94,"a":0,"b":1},{"n":92.05,"n2":96.75,"a":0,"b":1},{"n":94.8,"n2":99.5,"a":0,"b":1},{"n":97.55,"n2":102.25,"a":0,"b":1},{"n":100.3,"n2":104,"a":0,"b":0.79},{"n":103.05,"n2":104,"a":0,"b":0.2},{"n":122,"n2":123.95,"a":0.585,"b":1},{"n":122,"n2":125.9,"a":0.17,"b":1},{"n":122.8,"n2":127.5,"a":0,"b":1},{"n":125.55,"n2":130.25,"a":0,"b":1},{"n":128.3,"n2":133,"a":0,"b":1},{"n":131.05,"n2":135.75,"a":0,"b":1},{"n":133.8,"n2":138.5,"a":0,"b":1},{"n":136.55,"n2":141.25,"a":0,"b":1},{"n":139.3,"n2":142,"a":0,"b":0.57},{"n":173,"n2":174.95,"a":0.585,"b":1},{"n":173,"n2":176.9,"a":0.17,"b":1},{"n":173.8,"n2":178.5,"a":0,"b":1},{"n":176.55,"n2":181.25,"a":0,"b":1},{"n":179.3,"n2":182,"a":0,"b":0.57},{"n":187,"n2":188.95,"a":0.585,"b":1},{"n":187,"n2":190.9,"a":0.17,"b":1},{"n":189.5,"n2":192,"a":0,"b":0.53},{"n":202,"n2":203.95,"a":0.585,"b":1},{"n":202,"n2":205.9,"a":0.17,"b":1},{"n":202.8,"n2":207.5,"a":0,"b":1},{"n":205.55,"n2":210.25,"a":0,"b":1},{"n":208.3,"n2":213,"a":0,"b":1},{"n":211.05,"n2":215.75,"a":0,"b":1},{"n":213.8,"n2":218.5,"a":0,"b":1},{"n":216.55,"n2":221.25,"a":0,"b":1},{"n":219.3,"n2":224,"a":0,"b":1},{"n":222.05,"n2":226.75,"a":0,"b":1},{"n":224.8,"n2":229.5,"a":0,"b":1},{"n":227.55,"n2":232.25,"a":0,"b":1},{"n":230.3,"n2":235,"a":0,"b":1},{"n":233.05,"n2":236,"a":0,"b":0.63},{"n":266,"n2":267.95,"a":0.585,"b":1},{"n":266,"n2":269.9,"a":0.17,"b":1},{"n":268.5,"n2":271,"a":0,"b":0.53},{"n":293,"n2":294.95,"a":0.585,"b":1},{"n":293,"n2":296.9,"a":0.17,"b":1},{"n":293.8,"n2":298.5,"a":0,"b":1},{"n":296.55,"n2":301.25,"a":0,"b":1},{"n":299.3,"n2":304,"a":0,"b":1},{"n":302.05,"n2":306,"a":0,"b":0.84},{"n":304.8,"n2":306,"a":0,"b":0.26}],
"hatchR":[{"n":67,"n2":68.95,"a":0.415,"b":0},{"n":67,"n2":70.9,"a":0.83,"b":0},{"n":67.8,"n2":72.5,"a":1,"b":0},{"n":70.55,"n2":75.25,"a":1,"b":0},{"n":73.3,"n2":78,"a":1,"b":0},{"n":76.05,"n2":80.75,"a":1,"b":0},{"n":78.8,"n2":83,"a":1,"b":0.11},{"n":81.55,"n2":83,"a":1,"b":0.7},{"n":105,"n2":106.95,"a":0.415,"b":0},{"n":105,"n2":108.9,"a":0.83,"b":0},{"n":105.8,"n2":110.5,"a":1,"b":0},{"n":108.55,"n2":113.25,"a":1,"b":0},{"n":111.3,"n2":116,"a":1,"b":0},{"n":114.05,"n2":117,"a":1,"b":0.37},{"n":143,"n2":144.95,"a":0.415,"b":0},{"n":143,"n2":146.9,"a":0.83,"b":0},{"n":143.8,"n2":148.5,"a":1,"b":0},{"n":146.55,"n2":151.25,"a":1,"b":0},{"n":149.3,"n2":154,"a":1,"b":0},{"n":152.05,"n2":156.75,"a":1,"b":0},{"n":154.8,"n2":159.5,"a":1,"b":0},{"n":157.55,"n2":162.25,"a":1,"b":0},{"n":160.3,"n2":165,"a":1,"b":0},{"n":163.05,"n2":167.75,"a":1,"b":0},{"n":165.8,"n2":170.5,"a":1,"b":0},{"n":168.55,"n2":171,"a":1,"b":0.48},{"n":237,"n2":238.95,"a":0.415,"b":0},{"n":237,"n2":240.9,"a":0.83,"b":0},{"n":237.8,"n2":242.5,"a":1,"b":0},{"n":240.55,"n2":245.25,"a":1,"b":0},{"n":243.3,"n2":248,"a":1,"b":0},{"n":246.05,"n2":250.75,"a":1,"b":0},{"n":248.8,"n2":252,"a":1,"b":0.32},{"n":275,"n2":276.95,"a":0.415,"b":0},{"n":275,"n2":278.9,"a":0.83,"b":0},{"n":275.8,"n2":280.5,"a":1,"b":0},{"n":278.55,"n2":283.25,"a":1,"b":0},{"n":281.3,"n2":286,"a":1,"b":0},{"n":284.05,"n2":288.75,"a":1,"b":0},{"n":286.8,"n2":291.5,"a":1,"b":0},{"n":289.55,"n2":292,"a":1,"b":0.48}],
"yellowSeg":[{"n":15,"n2":23},{"n":39,"n2":67},{"n":104,"n2":105},{"n":117,"n2":122},{"n":142,"n2":143},{"n":171,"n2":173},{"n":182,"n2":187},{"n":192,"n2":202},{"n":236,"n2":237},{"n":252,"n2":266},{"n":271,"n2":275},{"n":292,"n2":293}],
"glyphs":[{"n":7.6,"k":"g"},{"n":18.9,"k":"y"},{"n":30.8,"k":"g"},{"n":52.8,"k":"y"},{"n":74.8,"k":"r"},{"n":93.6,"k":"g"},{"n":110.9,"k":"r"},{"n":119.8,"k":"y"},{"n":131.9,"k":"g"},{"n":156.9,"k":"r"},{"n":177.4,"k":"g"},{"n":184.6,"k":"y"},{"n":189.3,"k":"g"},{"n":197,"k":"y"},{"n":218.9,"k":"g"},{"n":244.4,"k":"r"},{"n":259,"k":"y"},{"n":268.4,"k":"g"},{"n":273,"k":"y"},{"n":283.5,"k":"r"},{"n":299.3,"k":"g"}],
"gutter":[{"n":316.6,"n2":328.95}],
"span":[{"n":1,"n2":316.6}],
"months":[{"n":15.5,"t":"May"},{"n":35.5,"t":"June"},{"n":56.5,"t":"July"},{"n":78.5,"t":"August"},{"n":99.8,"t":"September"},{"n":120.5,"t":"October"},{"n":142.5,"t":"November"},{"n":162.6,"t":"December"},{"n":184.6,"t":"2016"},{"n":203.6,"t":"February"},{"n":223.6,"t":"March"},{"n":245.9,"t":"April"},{"n":266.7,"t":"May"},{"n":287.9,"t":"June"},{"n":309.9,"t":"July"}],
"weeks":[{"n":1.5},{"n":6},{"n":11},{"n":16},{"n":21},{"n":26},{"n":31},{"n":36},{"n":41},{"n":46},{"n":51},{"n":56},{"n":61},{"n":66},{"n":71},{"n":76},{"n":81},{"n":86},{"n":91},{"n":96},{"n":101},{"n":106},{"n":111},{"n":116},{"n":121},{"n":126},{"n":131},{"n":136},{"n":141},{"n":146},{"n":151},{"n":156},{"n":161},{"n":166},{"n":171},{"n":176},{"n":181},{"n":186},{"n":191},{"n":196},{"n":201},{"n":206},{"n":211},{"n":216},{"n":221},{"n":226},{"n":231},{"n":236},{"n":241},{"n":246},{"n":251},{"n":256},{"n":261},{"n":266},{"n":271},{"n":276},{"n":281},{"n":286},{"n":291},{"n":296},{"n":301},{"n":306},{"n":311},{"n":315}],
"minorD":[{"n":316.6,"n2":317.85,"v":-1.125},{"n":316.6,"n2":317.85,"v":-1},{"n":316.6,"n2":317.85,"v":-0.875},{"n":316.6,"n2":317.85,"v":-0.75},{"n":316.6,"n2":317.85,"v":-0.625},{"n":316.6,"n2":317.85,"v":-0.375},{"n":316.6,"n2":317.85,"v":-0.25},{"n":316.6,"n2":317.85,"v":-0.125},{"n":316.6,"n2":317.85,"v":0.125},{"n":316.6,"n2":317.85,"v":0.25},{"n":316.6,"n2":317.85,"v":0.375},{"n":316.6,"n2":317.85,"v":0.625},{"n":316.6,"n2":317.85,"v":0.75},{"n":316.6,"n2":317.85,"v":0.875},{"n":316.6,"n2":317.85,"v":1},{"n":316.6,"n2":317.85,"v":1.125}],
"minorC":[{"n":316.6,"n2":317.85,"v":-225},{"n":316.6,"n2":317.85,"v":-212.5},{"n":316.6,"n2":317.85,"v":-187.5},{"n":316.6,"n2":317.85,"v":-175},{"n":316.6,"n2":317.85,"v":-162.5},{"n":316.6,"n2":317.85,"v":-137.5},{"n":316.6,"n2":317.85,"v":-125},{"n":316.6,"n2":317.85,"v":-112.5},{"n":316.6,"n2":317.85,"v":-87.5},{"n":316.6,"n2":317.85,"v":-75},{"n":316.6,"n2":317.85,"v":-62.5},{"n":316.6,"n2":317.85,"v":-37.5},{"n":316.6,"n2":317.85,"v":-25},{"n":316.6,"n2":317.85,"v":-12.5},{"n":316.6,"n2":317.85,"v":12.5},{"n":316.6,"n2":317.85,"v":25},{"n":316.6,"n2":317.85,"v":37.5},{"n":316.6,"n2":317.85,"v":62.5},{"n":316.6,"n2":317.85,"v":75},{"n":316.6,"n2":317.85,"v":87.5},{"n":316.6,"n2":317.85,"v":112.5},{"n":316.6,"n2":317.85,"v":125},{"n":316.6,"n2":317.85,"v":137.5},{"n":316.6,"n2":317.85,"v":162.5},{"n":316.6,"n2":317.85,"v":175},{"n":316.6,"n2":317.85,"v":187.5},{"n":316.6,"n2":317.85,"v":212.5},{"n":316.6,"n2":317.85,"v":225},{"n":316.6,"n2":317.85,"v":237.5}],
"minorP":[{"n":316.6,"n2":317.85,"v":1025},{"n":316.6,"n2":317.85,"v":1075},{"n":316.6,"n2":317.85,"v":1125},{"n":316.6,"n2":317.85,"v":1175},{"n":316.6,"n2":317.85,"v":1225},{"n":316.6,"n2":317.85,"v":1275},{"n":316.6,"n2":317.85,"v":1325},{"n":316.6,"n2":317.85,"v":1375}],
"minorV":[{"n":316.6,"n2":317.85,"v":1},{"n":316.6,"n2":317.85,"v":3},{"n":316.6,"n2":317.85,"v":5},{"n":316.6,"n2":317.85,"v":7},{"n":316.6,"n2":317.85,"v":11},{"n":316.6,"n2":317.85,"v":17}]
},
"vconcat":[
{"width":1329,"height":71,"view":{"fill":"#7B7CBE","stroke":null},
"encoding":{"x":{"field":"n","type":"quantitative","scale":{"domain":[0.4,328.95],"nice":false,"zero":false,"padding":0},"axis":null}},
"layer":[
{"data":{"name":"signals"},"mark":{"type":"rule","strokeWidth":1},"encoding":{"y":{"datum":1.14,"type":"quantitative"},"y2":{"datum":-1.14},"color":{"field":"k","type":"nominal","legend":null,"scale":{"domain":["y","g","r"],"range":["#FFFF00","#00FF00","#E00000"]}}}},
{"data":{"name":"danger"},"mark":{"type":"rect","color":"#000060"},"encoding":{"x2":{"field":"n2"},"y":{"field":"v","type":"quantitative","scale":{"domain":[-1.165,1.178],"nice":false,"zero":false},"axis":{"title":null,"domain":false,"values":[-0.5,0,0.5],"tickCount":20,"format":".1f","labelOverlap":false}},"y2":{"datum":0}}},
{"data":{"name":"baseline"},"mark":{"type":"rect","color":"#000060"},"encoding":{"x2":{"field":"n2"},"y":{"datum":0.08,"type":"quantitative"},"y2":{"datum":-0.08}}},
{"data":{"name":"minorD"},"mark":{"type":"rule","color":"#FFFFFF","strokeWidth":1},"encoding":{"x2":{"field":"n2"},"y":{"field":"v","type":"quantitative"}}},
{"data":{"values":[{"n":316.5}]},"mark":{"type":"rule","color":"#FFFFFF","strokeWidth":2},"encoding":{"y":{"datum":1.14,"type":"quantitative"},"y2":{"datum":-1.16}}},
{"data":{"values":[{"n":158.6,"v":0.86,"t":"Snake Danger (1.00000)"}]},"mark":{"type":"text","color":"#ECECF6","fontSize":12.3},"encoding":{"y":{"field":"v","type":"quantitative"},"text":{"field":"t"}}}
]},
{"width":1329,"height":152,"view":{"fill":"#A87400","stroke":null},
"encoding":{"x":{"field":"n","type":"quantitative","scale":{"domain":[0.4,328.95],"nice":false,"zero":false,"padding":0},"axis":null}},
"layer":[
{"data":{"name":"signals"},"mark":{"type":"rule","strokeWidth":1},"encoding":{"color":{"field":"k","type":"nominal","legend":null,"scale":{"domain":["y","g","r"],"range":["#FFFF00","#00FF00","#E00000"]}}}},
{"data":{"name":"thin"},"mark":{"type":"line","color":"#E2C08C","strokeWidth":1},"encoding":{"y":{"field":"v","type":"quantitative","scale":{"domain":[-230.4,244.5],"nice":false,"zero":false},"axis":{"title":null,"values":[-200,-150,-100,-50,0,50,100,150,200],"tickCount":20,"format":"d","labelOverlap":false}}}},
{"data":{"name":"white"},"mark":{"type":"line","color":"#FFEEDD","strokeWidth":2},"encoding":{"y":{"field":"v","type":"quantitative"}}},
{"data":{"name":"blue"},"mark":{"type":"line","color":"#0000FF","strokeWidth":2},"encoding":{"y":{"field":"v","type":"quantitative"}}},
{"data":{"name":"minorC"},"mark":{"type":"rule","color":"#FFFFFF","strokeWidth":1},"encoding":{"x2":{"field":"n2"},"y":{"field":"v","type":"quantitative"}}},
{"data":{"values":[{"n":158.6,"v":214.7,"t":"Snake Concept (204.296, 150.897, 158.183)"}]},"mark":{"type":"text","color":"#F4EFE0","fontSize":12.3},"encoding":{"y":{"field":"v","type":"quantitative"},"text":{"field":"t"}}},
{"data":{"values":[{"n":1,"n2":328.5,"v":244.5}]},"mark":{"type":"rule","color":"#000000","strokeWidth":1.5},"encoding":{"x2":{"field":"n2"},"y":{"field":"v","type":"quantitative"}}}
]},
{"width":1329,"height":292,"view":{"fill":"#480000","stroke":null},
"encoding":{"x":{"field":"n","type":"quantitative","scale":{"domain":[0.4,328.95],"nice":false,"zero":false,"padding":0},"axis":null}},
"layer":[
{"data":{"name":"signals"},"mark":{"type":"rule","strokeWidth":1},"encoding":{"color":{"field":"k","type":"nominal","legend":null,"scale":{"domain":["y","g","r"],"range":["#FFFF00","#00FF00","#E00000"]}}}},
{"data":{"name":"candles"},"mark":{"type":"rule","strokeWidth":1},"encoding":{"y":{"field":"l","type":"quantitative","scale":{"domain":[1017.4,1387],"nice":false,"zero":false},"axis":{"title":null,"values":[1050,1100,1150,1200,1250,1300,1350],"tickCount":20,"format":"d","labelOverlap":false}},"y2":{"field":"h"},"color":{"condition":{"test":"datum.c>=datum.o","value":"#FFFFFF"},"value":"#0000FF"}}},
{"data":{"name":"candles"},"mark":{"type":"bar","size":2.6,"strokeWidth":1},"encoding":{"y":{"field":"o","type":"quantitative"},"y2":{"field":"c"},"fill":{"condition":{"test":"datum.c>=datum.o","value":"#480000"},"value":"#0000FF"},"stroke":{"condition":{"test":"datum.c>=datum.o","value":"#FFFFFF"},"value":"#0000FF"}}},
{"data":{"name":"exits"},"mark":{"type":"rule","strokeWidth":2.5},"encoding":{"y":{"field":"p","type":"quantitative"},"y2":{"field":"e"},"color":{"condition":{"test":"datum.k=='r'","value":"#E00000"},"value":"#00C800"}}},
{"data":{"name":"down"},"mark":{"type":"point","filled":true,"opacity":1,"size":420,"color":"#FF0000","shape":"M-0.3,-1L0.3,-1L0.3,0.2L0.83,0.2L0,1L-0.83,0.2L-0.3,0.2Z"},"encoding":{"y":{"field":"p","type":"quantitative"}}},
{"data":{"name":"up"},"mark":{"type":"point","filled":true,"opacity":1,"size":420,"color":"#00E000","shape":"M-0.3,1L0.3,1L0.3,-0.2L0.83,-0.2L0,-1L-0.83,-0.2L-0.3,-0.2Z"},"encoding":{"y":{"field":"p","type":"quantitative"}}},
{"data":{"name":"exits"},"mark":{"type":"point","filled":true,"opacity":1,"size":340,"strokeWidth":1.5,"shape":"M-1,-0.42L1,-0.42L1,0.42L-1,0.42Z"},"encoding":{"y":{"field":"p","type":"quantitative"},"fill":{"condition":{"test":"datum.k=='r'","value":"#D80000"},"value":"#480000"},"stroke":{"condition":{"test":"datum.k=='r'","value":"#D80000"},"value":"#00E000"}}},
{"data":{"name":"exits"},"mark":{"type":"text","fontSize":8,"fontWeight":"bold"},"encoding":{"y":{"field":"p","type":"quantitative"},"text":{"field":"t"},"color":{"condition":{"test":"datum.k=='r'","value":"#600000"},"value":"#00C800"}}},
{"data":{"name":"minorP"},"mark":{"type":"rule","color":"#FFFFFF","strokeWidth":1},"encoding":{"x2":{"field":"n2"},"y":{"field":"v","type":"quantitative"}}},
{"data":{"values":[{"n":158.6,"v":1373,"t":"100 OZ GOLD JUN6 (1,253.70, 1,355.60, 1,253.70, 1,320.00, +58.8000)"}]},"mark":{"type":"text","color":"#F4EFE0","fontSize":12.3},"encoding":{"y":{"field":"v","type":"quantitative"},"text":{"field":"t"}}},
{"data":{"values":[{"n":1,"n2":328.5,"v":1387}]},"mark":{"type":"rule","color":"#200000","strokeWidth":1.5},"encoding":{"x2":{"field":"n2"},"y":{"field":"v","type":"quantitative"}}}
]},
{"width":1329,"height":22,"view":{"fill":"#000000","stroke":null},
"encoding":{"x":{"field":"n","type":"quantitative","scale":{"domain":[0.4,328.95],"nice":false,"zero":false,"padding":0},"axis":null}},
"layer":[
{"data":{"name":"signals"},"mark":{"type":"rule","strokeWidth":1},"encoding":{"color":{"field":"k","type":"nominal","legend":null,"scale":{"domain":["y","g","r"],"range":["#FFFF00","#00FF00","#E00000"]}}}},
{"data":{"name":"vol"},"mark":{"type":"rule","strokeWidth":1,"color":"#00FF00"},"encoding":{"y":{"field":"v","type":"quantitative","scale":{"domain":[0,22],"nice":false,"zero":false},"axis":{"title":null,"values":[9,14,20],"tickCount":20,"labels":false}},"y2":{"datum":0}}},
{"data":{"name":"minorV"},"mark":{"type":"rule","color":"#FFFFFF","strokeWidth":1},"encoding":{"x2":{"field":"n2"},"y":{"field":"v","type":"quantitative"}}},
{"data":{"name":"span"},"mark":{"type":"rule","color":"#808080","strokeWidth":1.5},"encoding":{"x2":{"field":"n2"},"y":{"datum":0,"type":"quantitative"}}},
{"data":{"values":[{"n":324.8,"v":7.5,"t":"0000"},{"n":318.2,"v":7.5,"t":"10"}]},"mark":{"type":"text","color":"#E8E8E8","fontSize":12},"encoding":{"y":{"field":"v","type":"quantitative"},"text":{"field":"t"}}},
{"data":{"values":[{"n":316.6,"n2":321.4,"v":13}]},"mark":{"type":"rule","color":"#FFFFFF","strokeWidth":1},"encoding":{"x2":{"field":"n2"},"y":{"field":"v","type":"quantitative"}}},
{"data":{"values":[{"n":321.4,"v":13}]},"mark":{"type":"rule","color":"#FFFFFF","strokeWidth":1},"encoding":{"y":{"field":"v","type":"quantitative"},"y2":{"datum":0}}}
]},
{"width":1329,"height":20,"view":{"fill":"#000000","stroke":null},
"encoding":{"x":{"field":"n","type":"quantitative","scale":{"domain":[0.4,328.95],"nice":false,"zero":false,"padding":0},"axis":null}},
"layer":[
{"data":{"name":"gutter"},"mark":{"type":"rect","color":"#FFFFFF"},"encoding":{"x2":{"field":"n2"}}},
{"data":{"name":"hatchG"},"mark":{"type":"rule","color":"#00C800","strokeWidth":1},"encoding":{"x2":{"field":"n2"},"y":{"field":"a","type":"quantitative","scale":{"domain":[0,1],"nice":false,"zero":false},"axis":null},"y2":{"field":"b"}}},
{"data":{"name":"hatchR"},"mark":{"type":"rule","color":"#F00000","strokeWidth":1},"encoding":{"x2":{"field":"n2"},"y":{"field":"a","type":"quantitative","axis":null},"y2":{"field":"b"}}},
{"data":{"name":"yellowSeg"},"mark":{"type":"rule","color":"#FFFF00","strokeWidth":1},"encoding":{"x2":{"field":"n2"},"y":{"datum":0.9,"axis":null}}},
{"data":{"name":"yellowSeg"},"mark":{"type":"rule","color":"#FFFF00","strokeWidth":1},"encoding":{"x2":{"field":"n2"},"y":{"datum":0.5,"axis":null}}},
{"data":{"name":"yellowSeg"},"mark":{"type":"rule","color":"#FFFF00","strokeWidth":1},"encoding":{"x2":{"field":"n2"},"y":{"datum":0.1,"axis":null}}},
{"data":{"name":"glyphs"},"mark":{"type":"point","filled":false,"opacity":1,"size":170,"strokeWidth":1,"color":"#0000FF"},"encoding":{"y":{"datum":0.5,"axis":null},"shape":{"field":"k","type":"nominal","legend":null,"scale":{"domain":["g","y","r"],"range":["M-1,0A1,1 0 1,1 1,0A1,1 0 1,1 -1,0ZM-0.7,0.7L0.7,-0.7","M-1,0A1,1 0 1,1 1,0A1,1 0 1,1 -1,0ZM-1,-0.25L1,-0.25M-1,0.25L1,0.25","M-1,0A1,1 0 1,1 1,0A1,1 0 1,1 -1,0ZM-0.7,-0.7L0.7,0.7"]}}}}
]},
{"width":1329,"height":20,"view":{"fill":"#000000","stroke":null},
"encoding":{"x":{"field":"n","type":"quantitative","scale":{"domain":[0.4,328.95],"nice":false,"zero":false,"padding":0},"axis":null}},
"layer":[
{"data":{"name":"gutter"},"mark":{"type":"rect","color":"#FFFFFF"},"encoding":{"x2":{"field":"n2"}}},
{"data":{"name":"span"},"mark":{"type":"rule","color":"#FFFFFF","strokeWidth":1.5},"encoding":{"x2":{"field":"n2"},"y":{"datum":0.97,"scale":{"domain":[0,1],"nice":false,"zero":false},"axis":null}}},
{"data":{"name":"weeks"},"mark":{"type":"rule","color":"#FFFFFF","strokeWidth":1},"encoding":{"y":{"datum":1,"axis":null},"y2":{"datum":0.78}}},
{"data":{"name":"months"},"mark":{"type":"rule","color":"#FFFFFF","strokeWidth":1},"encoding":{"y":{"datum":1,"axis":null},"y2":{"datum":0.03}}},
{"data":{"name":"months"},"mark":{"type":"text","align":"left","dx":2,"color":"#E8E8F4","fontSize":12.5},"encoding":{"y":{"datum":0.38,"axis":null},"text":{"field":"t"}}},
{"data":{"values":[{"n":322.5,"v":0.45,"t":"☺"}]},"mark":{"type":"text","color":"#00E000","fontSize":14,"font":"DejaVu Sans"},"encoding":{"y":{"field":"v","type":"quantitative","axis":null},"text":{"field":"t"}}}
]}
]}
